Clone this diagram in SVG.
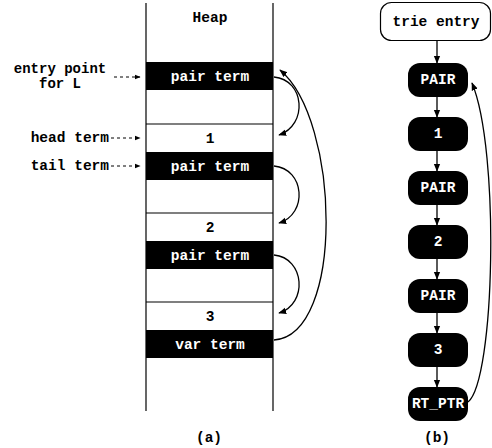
<svg xmlns="http://www.w3.org/2000/svg" width="492" height="448" viewBox="0 0 492 448">
<style>
text{font-family:"Liberation Mono","Courier New","DejaVu Sans Mono",monospace;font-weight:bold;font-size:14.5px;}
.c{text-anchor:middle}
.w{fill:#fff}
.blk{fill:#000}
.ln{stroke:#000;stroke-width:1.2;fill:none}
.dash{stroke:#000;stroke-width:1;stroke-dasharray:3,3;fill:none}
.cv{stroke:#000;stroke-width:1.3;fill:none}
</style>
<defs>
<marker id="ah" viewBox="0 0 10 10" refX="9" refY="5" markerWidth="8" markerHeight="8" markerUnits="userSpaceOnUse" orient="auto"><path d="M0,1 L10,5 L0,9 z" fill="#000"/></marker>
<marker id="sa" viewBox="0 0 10 10" refX="9" refY="5" markerWidth="6" markerHeight="6" markerUnits="userSpaceOnUse" orient="auto"><path d="M0,1 L10,5 L0,9 z" fill="#000"/></marker>
</defs>
<rect width="492" height="448" fill="#fff"/>
<g id="heap">
<line class="ln" x1="146" y1="3" x2="146" y2="411"/>
<line class="ln" x1="273" y1="3" x2="273" y2="411"/>
<text class="c" x="210" y="22">Heap</text>
</g>
<g id="cell-pair1"><rect class="blk" x="146" y="62" width="127" height="28"/><text class="c w" x="210" y="81">pair term</text></g>
<g id="cell-1"><line class="ln" x1="146" y1="124" x2="273" y2="124"/><text class="c" x="210" y="143">1</text></g>
<g id="cell-pair2"><rect class="blk" x="146" y="152" width="127" height="28"/><text class="c w" x="210" y="171">pair term</text></g>
<g id="cell-2"><line class="ln" x1="146" y1="213" x2="273" y2="213"/><text class="c" x="210" y="232">2</text></g>
<g id="cell-pair3"><rect class="blk" x="146" y="241" width="127" height="28"/><text class="c w" x="210" y="260">pair term</text></g>
<g id="cell-3"><line class="ln" x1="146" y1="302" x2="273" y2="302"/><text class="c" x="210" y="321">3</text></g>
<g id="cell-var"><rect class="blk" x="146" y="330" width="127" height="28"/><text class="c w" x="210" y="349">var term</text></g>
<g id="label-entry"><text class="c" x="60" y="73" style="font-size:14px">entry point</text><text class="c" x="60" y="88" style="font-size:14px">for L</text></g>
<g id="label-head"><text x="109" y="142" text-anchor="end">head term</text></g>
<g id="label-tail"><text x="109" y="170" text-anchor="end">tail term</text></g>
<text class="c" x="209" y="442">(a)</text>
<g id="trie-entry"><rect x="380.5" y="2.5" width="110" height="38" rx="11" fill="#fff" stroke="#000" stroke-width="1.2"/><text class="c" x="436" y="26">trie entry</text></g>
<g id="n-pair1"><rect class="blk" x="408" y="63" width="60" height="34" rx="12"/><text class="c w" x="438" y="84">PAIR</text></g>
<g id="n-1"><rect class="blk" x="408" y="117" width="60" height="34" rx="12"/><text class="c w" x="438" y="138">1</text></g>
<g id="n-pair2"><rect class="blk" x="408" y="171" width="60" height="34" rx="12"/><text class="c w" x="438" y="192">PAIR</text></g>
<g id="n-2"><rect class="blk" x="408" y="225" width="60" height="34" rx="12"/><text class="c w" x="438" y="246">2</text></g>
<g id="n-pair3"><rect class="blk" x="408" y="279" width="60" height="34" rx="12"/><text class="c w" x="438" y="300">PAIR</text></g>
<g id="n-3"><rect class="blk" x="408" y="333" width="60" height="34" rx="12"/><text class="c w" x="438" y="354">3</text></g>
<g id="n-rtptr"><rect class="blk" x="408" y="387" width="60" height="34" rx="12"/><text class="c w" x="438" y="408">RT_PTR</text></g>
<text class="c" x="437" y="442">(b)</text>
<g id="connectors">
<line class="dash" x1="114" y1="77" x2="140" y2="77" marker-end="url(#sa)"/>
<line class="dash" x1="111" y1="138" x2="140" y2="138" marker-end="url(#sa)"/>
<line class="dash" x1="111" y1="166" x2="140" y2="166" marker-end="url(#sa)"/>
<path class="cv" d="M274,77 C305,80 308,125 279,135" marker-end="url(#ah)"/>
<path class="cv" d="M274,166 C305,169 308,214 279,223" marker-end="url(#ah)"/>
<path class="cv" d="M274,255 C305,258 308,304 279,313" marker-end="url(#ah)"/>
<path class="cv" d="M274,340 C345,335 340,120 280,70" marker-end="url(#ah)"/>
<line class="cv" x1="437" y1="41" x2="437" y2="63" marker-end="url(#ah)"/>
<line class="cv" x1="437" y1="97" x2="437" y2="117" marker-end="url(#ah)"/>
<line class="cv" x1="437" y1="151" x2="437" y2="171" marker-end="url(#ah)"/>
<line class="cv" x1="437" y1="205" x2="437" y2="225" marker-end="url(#ah)"/>
<line class="cv" x1="437" y1="259" x2="437" y2="279" marker-end="url(#ah)"/>
<line class="cv" x1="437" y1="313" x2="437" y2="333" marker-end="url(#ah)"/>
<line class="cv" x1="437" y1="367" x2="437" y2="387" marker-end="url(#ah)"/>
<path class="cv" d="M468,402 C495,380 500,150 472,83" marker-end="url(#ah)"/>
</g>
</svg>
